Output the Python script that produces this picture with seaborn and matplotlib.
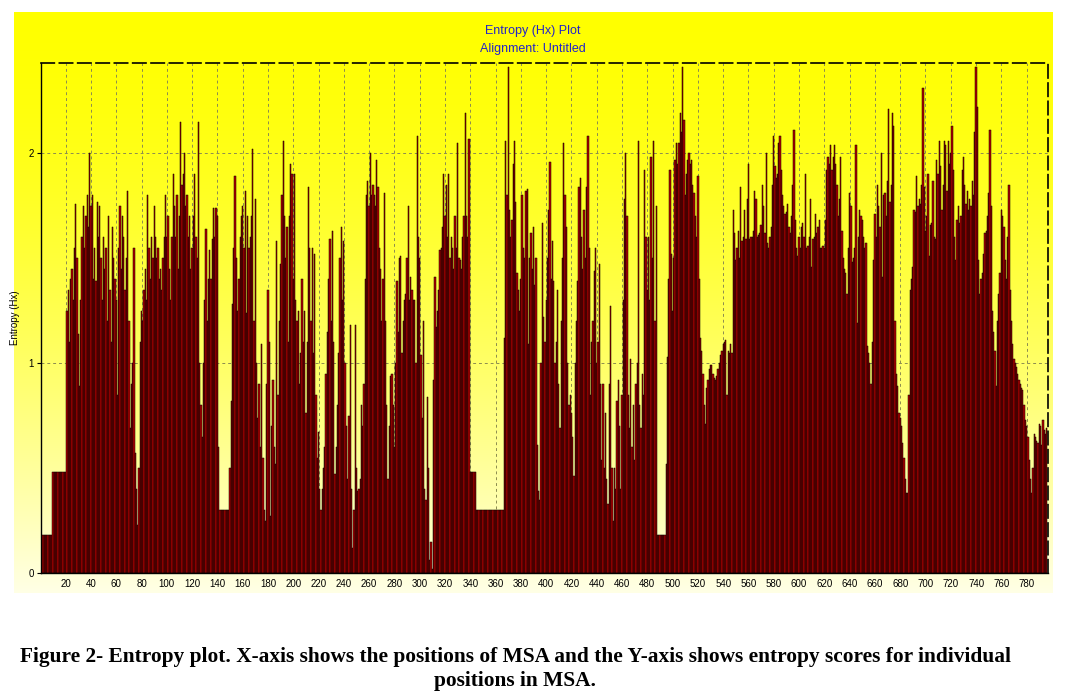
import numpy as np
import seaborn as sns
import matplotlib.pyplot as plt

# entropy (Hx) per alignment position in blocks of 10
hx_001_100 = [
    0.18, 0.18, 0.18, 0.18, 0.18, 0.18, 0.18, 0.18, 0.18, 0.48,
    0.48, 0.48, 0.48, 0.48, 0.48, 0.48, 0.48, 0.48, 0.48, 0.48,
    1.25, 1.35, 1.1, 1.4, 1.45, 1.3, 1.55, 1.76, 1.5, 1.14,
    0.89, 1.3, 1.6, 1.75, 1.55, 1.7, 1.8, 1.65, 2.0, 1.75,
    1.8, 1.4, 1.55, 1.39, 1.77, 1.6, 1.75, 1.5, 1.3, 1.6,
    1.45, 1.55, 1.2, 1.7, 1.35, 1.1, 1.65, 1.5, 1.4, 1.3,
    0.85, 1.55, 1.75, 1.45, 1.7, 1.6, 1.35, 1.5, 1.82, 1.2,
    0.69, 0.9, 1.0, 1.55, 0.57, 0.4, 0.23, 0.5, 1.1, 1.25,
    1.2, 1.35, 1.45, 1.3, 1.8, 1.55, 1.4, 1.6, 1.5, 1.75,
    1.6, 1.5, 1.55, 1.4, 1.45, 1.35, 1.5, 1.6, 1.8, 1.6,
]
hx_101_200 = [
    1.7, 1.45, 1.3, 1.6, 1.9, 1.75, 1.6, 1.8, 1.45, 1.7,
    2.15, 1.85, 1.9, 2.0, 1.75, 1.8, 1.6, 1.7, 1.45, 1.55,
    1.7, 1.9, 1.6, 1.5, 2.15, 1.0, 0.8, 0.65, 1.0, 1.3,
    1.64, 1.2, 1.4, 1.54, 1.4, 1.59, 1.74, 1.6, 1.74, 1.7,
    0.6, 0.3, 0.3, 0.3, 0.3, 0.3, 0.3, 0.3, 0.3, 0.5,
    0.82, 1.28, 1.55, 1.89, 1.5, 1.25, 1.4, 1.6, 1.7, 1.75,
    1.55, 1.82, 1.24, 1.7, 1.55, 1.6, 1.7, 2.02, 1.2, 1.78,
    1.0, 0.74, 0.9, 0.6, 1.09, 0.55, 0.3, 0.25, 0.9, 1.35,
    1.1, 0.27, 0.7, 0.92, 0.6, 0.52, 1.58, 0.85, 1.2, 1.47,
    1.8, 2.06, 1.7, 1.5, 1.65, 1.1, 1.7, 1.95, 1.9, 1.4,
]
hx_201_300 = [
    1.9, 1.3, 1.2, 1.25, 0.9, 1.05, 1.4, 1.1, 1.25, 0.76,
    1.1, 1.84, 1.55, 1.2, 1.55, 1.05, 1.52, 0.85, 0.55, 0.67,
    0.4, 0.3, 0.4, 0.5, 0.6, 0.95, 1.15, 1.4, 1.59, 1.2,
    1.63, 1.1, 0.47, 0.6, 0.8, 1.05, 1.5, 1.65, 1.3, 1.58,
    1.0, 0.7, 0.45, 0.75, 1.18, 0.4, 0.12, 0.3, 1.18, 0.5,
    0.39, 0.4, 0.45, 0.8, 0.7, 0.9, 1.4, 1.8, 1.87, 1.75,
    2.0, 1.8, 1.85, 1.8, 1.75, 1.97, 1.84, 1.55, 1.45, 1.2,
    1.4, 1.81, 1.2, 0.8, 0.45, 0.7, 0.94, 0.95, 0.8, 0.6,
    1.0, 1.39, 1.15, 1.5, 1.51, 1.05, 1.2, 1.3, 1.33, 1.5,
    1.75, 1.3, 1.41, 1.35, 1.3, 1.3, 1.0, 2.08, 1.6, 1.5,
]
hx_301_400 = [
    1.04, 0.74, 1.2, 0.4, 0.35, 0.84, 0.5, 0.06, 0.15, 0.02,
    0.92, 1.41, 1.17, 1.25, 1.35, 1.54, 1.55, 1.65, 1.9, 1.7,
    1.85, 1.6, 1.9, 1.5, 1.6, 1.55, 1.45, 1.7, 1.55, 2.05,
    1.5, 1.49, 1.45, 1.6, 1.7, 2.19, 1.7, 1.6, 2.07, 0.48,
    0.48, 0.48, 0.48, 0.48, 0.3, 0.3, 0.3, 0.3, 0.3, 0.3,
    0.3, 0.3, 0.3, 0.3, 0.3, 0.3, 0.3, 0.3, 0.3, 0.3,
    0.3, 0.3, 0.3, 0.3, 0.3, 0.3, 1.12, 2.06, 1.8, 2.41,
    1.73, 1.6, 1.68, 1.95, 2.06, 1.77, 1.43, 1.35, 1.25, 1.4,
    1.8, 1.55, 1.5, 1.82, 1.83, 1.09, 1.5, 1.62, 1.45, 1.65,
    1.37, 1.5, 0.61, 0.39, 0.35, 1.0, 1.67, 1.22, 1.1, 1.3,
]
hx_401_500 = [
    1.5, 1.73, 1.96, 1.4, 1.58, 1.39, 1.0, 1.1, 1.35, 0.9,
    0.69, 1.2, 1.5, 2.05, 1.8, 1.65, 1.0, 0.8, 0.85, 0.76,
    0.65, 0.46, 1.0, 1.2, 1.39, 1.84, 1.88, 1.6, 1.45, 1.73,
    1.5, 1.84, 2.08, 1.55, 0.85, 1.1, 1.2, 1.44, 1.55, 1.0,
    1.1, 1.47, 0.9, 0.54, 0.9, 0.5, 0.76, 0.45, 0.33, 0.9,
    1.27, 0.5, 0.25, 0.5, 0.4, 0.82, 0.92, 0.7, 0.4, 0.85,
    1.3, 1.78, 2.0, 1.7, 0.85, 0.69, 1.02, 0.6, 0.8, 0.54,
    0.9, 1.0, 2.06, 0.8, 0.69, 0.95, 0.85, 1.92, 1.6, 1.35,
    1.6, 1.3, 1.98, 1.5, 2.06, 1.2, 1.75, 0.18, 0.18, 0.18,
    0.18, 0.18, 0.18, 0.18, 0.52, 1.03, 1.4, 1.92, 1.52, 1.25,
]
hx_501_600 = [
    1.5, 1.97, 2.05, 1.95, 2.05, 2.19, 2.1, 2.41, 2.16, 1.8,
    1.9, 1.97, 2.0, 1.95, 1.97, 1.85, 1.81, 1.7, 1.6, 1.89,
    1.4, 1.12, 1.06, 0.95, 0.8, 0.71, 0.88, 0.92, 0.97, 0.99,
    0.99, 0.95, 0.93, 0.92, 0.94, 0.97, 1.0, 1.04, 1.06, 1.09,
    1.1, 1.11, 0.85, 1.06, 1.05, 1.09, 1.05, 1.73, 1.62, 1.49,
    1.55, 1.63, 1.5, 1.84, 1.58, 1.6, 1.73, 1.59, 1.78, 1.95,
    1.59, 1.6, 1.6, 1.63, 1.82, 1.78, 1.6, 1.61, 1.62, 1.66,
    1.85, 1.75, 1.62, 2.0, 1.57, 1.55, 1.6, 1.65, 1.85, 2.08,
    1.94, 1.88, 1.9, 2.05, 2.08, 1.92, 1.8, 1.75, 1.71, 1.72,
    1.76, 1.65, 1.62, 1.7, 1.85, 2.11, 1.68, 1.55, 1.51, 1.6,
]
hx_601_700 = [
    1.55, 1.65, 1.67, 1.6, 1.9, 1.55, 1.56, 1.6, 1.78, 1.46,
    1.59, 1.6, 1.71, 1.62, 1.65, 1.68, 1.55, 1.55, 1.56, 1.55,
    1.68, 1.92, 1.98, 1.95, 2.04, 1.92, 1.98, 2.04, 1.95, 1.85,
    1.7, 1.78, 1.98, 1.63, 1.5, 1.45, 1.43, 1.33, 1.55, 1.81,
    1.75, 1.48, 1.5, 1.55, 2.04, 1.19, 1.6, 1.73, 1.7, 1.68,
    1.6, 1.55, 1.57, 1.08, 1.05, 1.0, 0.9, 1.1, 1.49, 1.71,
    1.6, 1.85, 1.75, 1.65, 2.0, 1.41, 1.8, 1.81, 1.7, 1.87,
    2.21, 1.77, 1.85, 2.19, 2.13, 1.2, 0.95, 0.89, 0.76, 0.74,
    0.7, 0.62, 0.55, 0.45, 0.38, 0.38, 0.85, 1.35, 1.4, 1.46,
    1.73, 1.72, 1.89, 1.75, 1.78, 1.76, 1.85, 2.31, 1.84, 1.63,
]
hx_701_796 = [
    1.7, 1.9, 1.51, 1.66, 1.67, 1.87, 1.6, 1.59, 1.97, 1.9,
    2.06, 1.94, 1.73, 1.85, 2.06, 2.04, 1.82, 2.06, 1.95, 2.0,
    2.13, 1.92, 1.6, 1.49, 1.68, 1.75, 1.67, 1.7, 1.92, 1.98,
    1.85, 1.76, 1.82, 1.73, 1.78, 1.75, 1.87, 1.8, 2.1, 2.41,
    2.22, 1.49, 1.33, 1.4, 1.43, 1.52, 1.62, 1.63, 1.7, 1.81,
    2.11, 1.75, 1.25, 1.15, 1.06, 0.89, 1.2, 1.33, 1.43, 1.73,
    1.7, 1.65, 1.49, 1.4, 1.6, 1.85, 1.35, 1.2, 1.09, 1.02,
    1.0, 0.98, 0.95, 0.92, 0.9, 0.88, 0.87, 0.8, 0.73, 0.7,
    0.65, 0.54, 0.45, 0.38, 0.5, 0.66, 0.65, 0.63, 0.62, 0.71,
    0.7, 0.61, 0.73, 0.68, 0.66, 0.69,
]

entropy = (hx_001_100 + hx_101_200 + hx_201_300 + hx_301_400
           + hx_401_500 + hx_501_600 + hx_601_700 + hx_701_796)
positions = list(range(1, len(entropy) + 1))
x_ticks = list(range(20, 781, 20))
y_ticks = [0, 1, 2]

sns.set_style('white')
plt.rcParams['font.family'] = ['Liberation Sans', 'DejaVu Sans']
plt.rcParams['text.color'] = 'black'
plt.rcParams['axes.labelcolor'] = 'black'
plt.rcParams['xtick.color'] = 'black'
plt.rcParams['ytick.color'] = 'black'

fig = plt.figure(figsize=(10.67, 6.95), dpi=100)

# yellow gradient panel behind the chart
bg = fig.add_axes([14 / 1067, 1 - 593 / 695, 1039 / 1067, 581 / 695])
t = np.linspace(0, 1, 256)[:, None]
grad = np.ones((256, 1, 3))
grad[:, :, 2] = 0.9 * t ** 1.6
bg.imshow(grad, aspect='auto', extent=[0, 1, 0, 1])
bg.set_axis_off()

ax = fig.add_axes([41 / 1067, 1 - 573 / 695, 1007 / 1067, 510 / 695])
ax.set_facecolor('none')
sns.barplot(x=positions, y=entropy, native_scale=True, width=1.0,
            color='#b80000', saturation=1, edgecolor='black',
            linewidth=0.35, errorbar=None, ax=ax)

ax.set_xlim(0.5, 796.9)
ax.set_ylim(0, 2.43)
ax.set_xticks(x_ticks)
ax.set_xticklabels([str(v) for v in x_ticks], fontsize=7)
ax.set_yticks(y_ticks)
ax.set_yticklabels([str(v) for v in y_ticks], fontsize=7)
ax.tick_params(axis='x', length=0, pad=4)
ax.tick_params(axis='y', length=3, width=0.8, pad=2, left=True)
ax.set_axisbelow(True)
ax.grid(True, color='#8c8c50', linestyle=(0, (3, 3)), linewidth=0.7)
ax.set_xlabel('')
ax.set_ylabel('Entropy (Hx)', fontsize=7, labelpad=6)

for side in ['left', 'bottom']:
    ax.spines[side].set_color('black')
    ax.spines[side].set_linewidth(1.0)
for side in ['top', 'right']:
    ax.spines[side].set_visible(True)
    ax.spines[side].set_color('black')
    ax.spines[side].set_linewidth(1.2)
    ax.spines[side].set_linestyle((0, (8, 3)))

fig.text(533 / 1067, 1 - 31 / 695, 'Entropy (Hx) Plot', ha='center',
         va='center', fontsize=9, color='#2424c8')
fig.text(533 / 1067, 1 - 49 / 695, 'Alignment: Untitled', ha='center',
         va='center', fontsize=9, color='#2424c8')

fig.text(515 / 1067, 1 - 657 / 695,
         'Figure 2- Entropy plot. X-axis shows the positions of MSA and the '
         'Y-axis shows entropy scores for individual',
         ha='center', va='center', fontsize=15.4, fontweight='bold',
         color='black', family=['Liberation Serif', 'DejaVu Serif'])
fig.text(515 / 1067, 1 - 681 / 695, 'positions in MSA.',
         ha='center', va='center', fontsize=15.4, fontweight='bold',
         color='black', family=['Liberation Serif', 'DejaVu Serif'])

fig.savefig('out.png', dpi=100)
